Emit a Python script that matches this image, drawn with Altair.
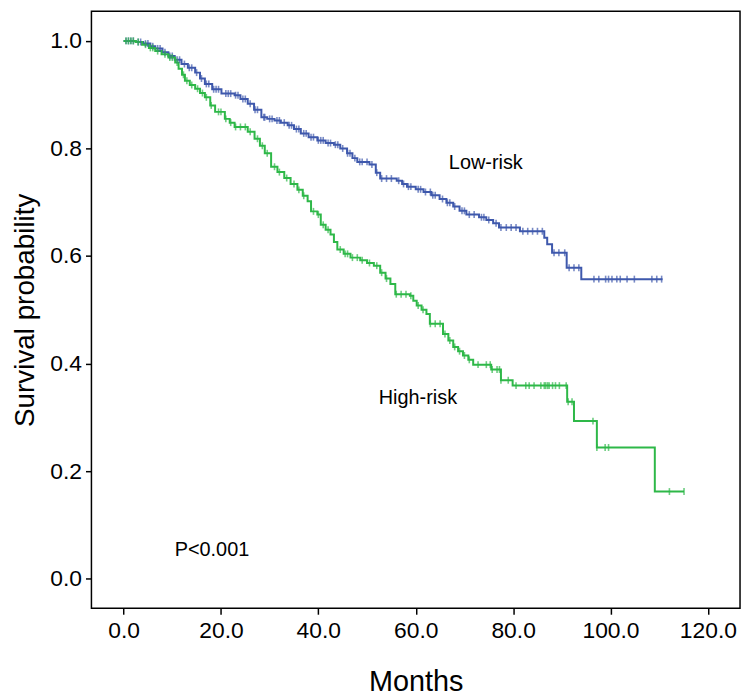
import altair as alt
import pandas as pd
import numpy as np

# Kaplan-Meier step values
low_t = [0, 2.5, 4, 5.5, 6.5, 8, 9.2, 10.5, 11.9, 13.2, 14.7, 15.7, 16.7, 18.2, 20.1, 22.8, 24, 25.5,
         26.8, 28.3, 29.5, 31.0, 32.3, 33.7, 35, 36.4, 38, 39.8, 41.5, 43.2, 44.5, 45.9, 47, 48, 50.5,
         51.8, 52.7, 56.1, 57.2, 58.2, 60, 61.6, 63.2, 64.9, 66.3, 67.7, 69, 70.4, 73.0, 74.5, 75.9,
         77.1, 81.4, 86.4, 87, 88.0, 91.0, 94.0, 110.7]
low_s = [1.0, 0.998, 0.995, 0.99, 0.986, 0.979, 0.972, 0.965, 0.957, 0.95, 0.941, 0.93, 0.92, 0.91,
         0.902, 0.899, 0.892, 0.883, 0.872, 0.858, 0.855, 0.852, 0.848, 0.843, 0.836, 0.828, 0.821,
         0.815, 0.81, 0.807, 0.8, 0.791, 0.782, 0.775, 0.77, 0.755, 0.744, 0.74, 0.734, 0.729, 0.724,
         0.719, 0.713, 0.706, 0.699, 0.692, 0.684, 0.677, 0.672, 0.667, 0.661, 0.653, 0.646, 0.634,
         0.622, 0.606, 0.578, 0.557, 0.557]

high_t = [0, 2.5, 3.8, 5.2, 6.5, 7.8, 9.2, 10.6, 11.3, 12.0, 12.6, 13.6, 14.7, 15.7, 16.7, 17.8, 18.8,
          20.8, 21.8, 22.8, 25.5, 26.9, 28, 29.0, 30.3, 31.6, 33.0, 34.3, 35.7, 36.8, 37.8, 38.5, 39.8,
          40.5, 41.5, 42.5, 43.2, 43.9, 45.2, 46.6, 48.6, 50, 51.4, 52.7, 53.8, 54.8, 55.8, 58.8, 59.5,
          60.2, 61.2, 62.2, 62.9, 65.6, 66.7, 67.7, 68.7, 69.7, 70.8, 71.8, 75.5, 77.5, 79.9, 91.1,
          92.5, 97.2, 109.1, 115.1]
high_s = [1.0, 0.998, 0.993, 0.987, 0.981, 0.975, 0.969, 0.96, 0.948, 0.937, 0.926, 0.918, 0.911,
          0.903, 0.895, 0.88, 0.868, 0.855, 0.848, 0.84, 0.831, 0.818, 0.805, 0.791, 0.766, 0.756,
          0.745, 0.734, 0.723, 0.712, 0.702, 0.683, 0.677, 0.658, 0.649, 0.640, 0.626, 0.612, 0.604,
          0.597, 0.592, 0.587, 0.582, 0.569, 0.558, 0.548, 0.529, 0.526, 0.517, 0.508, 0.5, 0.492,
          0.474, 0.455, 0.443, 0.431, 0.423, 0.415, 0.407, 0.398, 0.389, 0.369, 0.359, 0.329, 0.293,
          0.244, 0.162, 0.162]

# censoring times
low_censor = [0.5, 1, 1.5, 2, 3, 3.5, 4.5, 5, 6, 7, 7.5, 8.5, 9.5, 10, 11, 11.5, 12.5, 13.5, 14, 15,
              16, 17, 17.5, 18.5, 19, 19.5, 21, 21.5, 22, 23, 23.5, 24.5, 25, 26, 27, 27.5, 28.8, 29,
              30, 30.5, 31.5, 32, 33, 34, 34.5, 35.5, 36, 37, 37.5, 38.5, 39, 40, 40.5, 41, 42, 42.5,
              43.5, 44, 45, 46, 46.5, 47.5, 48.5, 49, 50, 51, 52, 53, 54, 55, 56.5, 57.5, 58.5, 59,
              60.5, 61, 62, 63, 63.5, 64, 65.5, 66.5, 67, 68, 69.5, 70, 71, 72, 73.5, 74, 75, 76.5,
              77.5, 78.6, 79.6, 80.6, 82.0, 83.0, 84.0, 85.0, 86.0, 88.4, 89.4, 90.6, 91.5, 92.5, 93.5,
              96.6, 97.6, 99.0, 99.6, 100.3, 101.3, 102.0, 103.4, 104.9, 108.5, 109.5, 110.5]
high_censor = [0.5, 1, 1.5, 2, 3, 4.5, 5.5, 6, 7, 8.5, 9.5, 10, 11, 12.3, 13, 14, 15.2, 16.2, 17, 18,
               19.5, 20, 21, 22, 23, 24, 25, 26, 27.5, 28.5, 29.5, 31, 32, 33.5, 35, 36, 37, 39, 40,
               41, 42, 44.5, 45.5, 46, 47, 48, 49, 50.5, 52, 53, 54, 56, 57, 58, 59, 60.5, 61.5, 63,
               64, 65, 66, 67, 68, 69, 70, 71, 72.8, 74.5, 75.3, 75.7, 76.7, 77.2, 77.5, 79.0, 80.6,
               82.6, 83.3, 84.3, 85.7, 86.4, 86.7, 87.1, 87.4, 88.1, 88.7, 89.5, 90.9, 91.3, 92.1,
               96.4, 97.2, 98.9, 99.6, 112.1, 115.1]

x_ticks = [0, 20, 40, 60, 80, 100, 120]
y_ticks = [0.0, 0.2, 0.4, 0.6, 0.8, 1.0]
groups = ["Low-risk", "High-risk"]
colors = ["#3E58AC", "#2EB848"]

labels_text = ["Low-risk", "High-risk", "P<0.001"]
labels_x = [66.8, 52.4, 10.5]
labels_y = [0.772, 0.336, 0.054]

curves = pd.concat([
    pd.DataFrame({"t": low_t, "s": low_s, "g": "Low-risk"}),
    pd.DataFrame({"t": high_t, "s": high_s, "g": "High-risk"}),
])


def censor_df(times, ct, cs, g):
    ct = np.array(ct)
    cs = np.array(cs)
    idx = np.searchsorted(ct, np.array(times), side="right") - 1
    return pd.DataFrame({"t": times, "s": cs[idx], "g": g})


cens = pd.concat([
    censor_df(low_censor, low_t, low_s, "Low-risk"),
    censor_df(high_censor, high_t, high_s, "High-risk"),
])

labels = pd.DataFrame({"txt": labels_text, "t": labels_x, "s": labels_y})

FONT = "Liberation Sans"

xs = alt.Scale(domain=[-6.6, 126.6], nice=False, zero=False)
ys = alt.Scale(domain=[-0.055, 1.055], nice=False, zero=False)
cs = alt.Scale(domain=groups, range=colors)

xax = alt.Axis(values=x_ticks, format=".1f", title="Months", grid=False, domain=False,
               tickColor="black", tickWidth=1.5, tickSize=6, labelFontSize=23, labelFont=FONT,
               labelColor="black", labelPadding=5, titleFont=FONT, titleFontSize=29,
               titleFontWeight="normal", titleColor="black", titleY=74, titleBaseline="middle")
yax = alt.Axis(values=y_ticks, format=".1f", title="Survival probability", grid=False, domain=False,
               tickColor="black", tickWidth=1.5, tickSize=6, labelFontSize=23, labelFont=FONT,
               labelColor="black", labelPadding=4, titleFont=FONT, titleFontSize=28,
               titleFontWeight="normal", titleColor="black", titleX=-66, titleBaseline="middle",
               titleAlign="center")

lines = alt.Chart(curves).mark_line(interpolate="step-after", strokeWidth=2).encode(
    x=alt.X("t:Q", scale=xs, axis=xax),
    y=alt.Y("s:Q", scale=ys, axis=yax),
    color=alt.Color("g:N", scale=cs, legend=None),
    detail="g:N",
)

ticks = alt.Chart(cens).mark_tick(orient="vertical", size=7, thickness=1.6).encode(
    x=alt.X("t:Q", scale=xs),
    y=alt.Y("s:Q", scale=ys),
    color=alt.Color("g:N", scale=cs, legend=None),
)

txt = alt.Chart(labels).mark_text(align="left", baseline="middle", font=FONT, fontSize=20,
                                  color="black").encode(
    x=alt.X("t:Q", scale=xs),
    y=alt.Y("s:Q", scale=ys),
    text="txt:N",
)

chart = alt.layer(lines, ticks, txt).properties(
    width=653, height=601,
    background="white",
    autosize=alt.AutoSizeParams(type="none"),
    padding={"left": 84, "top": 1, "right": 4, "bottom": 86},
).configure_view(stroke="black", strokeWidth=1.5)

chart.save("out.html", embed_options={"renderer": "svg", "actions": False})
